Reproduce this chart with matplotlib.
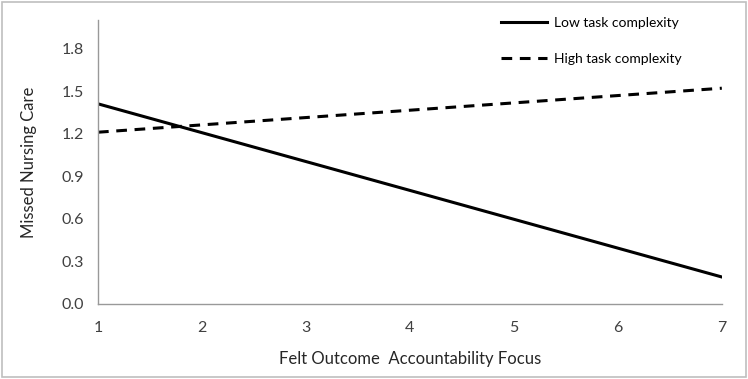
import matplotlib
matplotlib.use("Agg")
import matplotlib.pyplot as plt
from matplotlib.patches import Rectangle

plt.rcParams['font.family'] = ['Lato', 'DejaVu Sans']

x_vals = [1, 7]
low_vals = [1.41, 0.19]
high_vals = [1.21, 1.52]
x_ticks = [1, 2, 3, 4, 5, 6, 7]
y_ticks = [0.0, 0.3, 0.6, 0.9, 1.2, 1.5, 1.8]

fig = plt.figure(figsize=(7.48, 3.79), dpi=100)
ax = fig.add_axes([0.131, 0.198, 0.834, 0.749])

ax.plot(x_vals, low_vals, color='black', lw=2.2, label='Low task complexity')
ax.plot(x_vals, high_vals, color='black', lw=2.2, ls=(0, (3.5, 2.5)), label='High task complexity')

ax.set_xlim(1, 7)
ax.set_ylim(0, 2.0)
ax.set_xticks(x_ticks)
ax.set_yticks(y_ticks)
ax.set_yticklabels([f"{v:.1f}" for v in y_ticks])
ax.tick_params(length=0, labelsize=11.5, colors='#404040', pad=10)
ax.tick_params(axis='x', pad=12)
for s in ['top', 'right']:
    ax.spines[s].set_visible(False)
for s in ['left', 'bottom']:
    ax.spines[s].set_color('#999999')
    ax.spines[s].set_linewidth(1)

ax.set_xlabel('Felt Outcome  Accountability Focus', fontsize=12, color='#262626', labelpad=12)
ax.set_ylabel('Missed Nursing Care', fontsize=12, color='#262626', labelpad=18)

leg = ax.legend(loc='upper right', bbox_to_anchor=(0.955, 1.055), frameon=False,
                fontsize=10, handlelength=3.3, labelspacing=1.75, handletextpad=0.5)

fig.patches.append(Rectangle((0.003, 0.005), 0.994, 0.99, transform=fig.transFigure,
                             fill=False, edgecolor='#bfbfbf', lw=1.2))

fig.savefig('out.png', dpi=100)
